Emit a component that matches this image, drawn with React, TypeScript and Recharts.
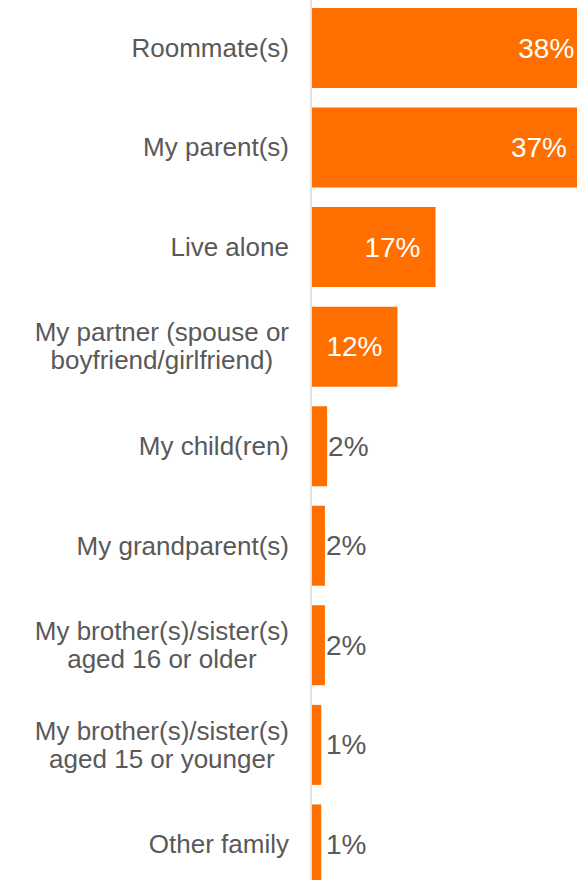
import { BarChart, Bar, XAxis, YAxis, LabelList } from 'recharts';

const categories = [
  'Roommate(s)',
  'My parent(s)',
  'Live alone',
  'My partner (spouse or\nboyfriend/girlfriend)',
  'My child(ren)',
  'My grandparent(s)',
  'My brother(s)/sister(s)\naged 16 or older',
  'My brother(s)/sister(s)\naged 15 or younger',
  'Other family',
];

const shares = [38, 37, 17, 11.8, 2.2, 1.9, 1.9, 1.4, 1.4];

const data = categories.map((name, i) => ({ name, value: shares[i] }));

const ORANGE = '#FF6F00';
const GREY = '#595959';
const FONT = '"Liberation Sans", Arial, sans-serif';
const LABEL_RIGHT = 289;

let ctx: CanvasRenderingContext2D | null = null;
const measure = (text: string, size: number) => {
  if (!ctx) ctx = document.createElement('canvas').getContext('2d');
  if (!ctx) return text.length * size * 0.5;
  ctx.font = `${size}px ${FONT}`;
  return ctx.measureText(text).width;
};

// multi-line labels: lines centred on each other, block right-aligned
const CategoryTick = (props: any) => {
  const { y, payload } = props;
  const lines = String(payload.value).split('\n');
  const size = 26;
  const lineHeight = 28;
  const maxW = Math.max(...lines.map((l) => measure(l, size)));
  const cx = LABEL_RIGHT - maxW / 2;
  const start = -((lines.length - 1) / 2) * lineHeight;
  return (
    <g>
      {lines.map((line, i) => (
        <text
          key={i}
          x={cx}
          y={y + start + i * lineHeight}
          textAnchor="middle"
          dominantBaseline="central"
          fill={GREY}
          fontSize={size}
          fontFamily={FONT}
        >
          {line}
        </text>
      ))}
    </g>
  );
};

const ValueLabel = (props: any) => {
  const { x, y, width, height, value } = props;
  const text = `${Math.round(value)}%`;
  const inside = value >= 5;
  const end = x + width;
  return (
    <text
      x={inside ? end - 15 : Math.max(end + 1, 326)}
      y={y + height / 2}
      textAnchor={inside ? 'end' : 'start'}
      dominantBaseline="central"
      fill={inside ? '#ffffff' : GREY}
      fontSize={28}
      fontFamily={FONT}
    >
      {text}
    </text>
  );
};

const App = () => {
  return (
    <div
      style={{
        position: 'fixed',
        top: 0,
        left: 0,
        width: 577,
        height: 880,
        overflow: 'hidden',
        background: '#fff',
      }}
    >
      <div style={{ position: 'absolute', top: -2, left: 0 }}>
        <BarChart
          layout="vertical"
          width={604}
          height={896}
          data={data}
          margin={{ top: 0, right: 0, bottom: 0, left: 0 }}
        >
          <XAxis type="number" domain={[0, 40]} hide />
          <YAxis
            type="category"
            dataKey="name"
            width={311}
            interval={0}
            tickLine={false}
            axisLine={{ stroke: '#E3E3E3', strokeWidth: 2 }}
            tick={<CategoryTick />}
          />
          <Bar dataKey="value" fill={ORANGE} barSize={80} isAnimationActive={false}>
            <LabelList dataKey="value" content={<ValueLabel />} />
          </Bar>
        </BarChart>
      </div>
    </div>
  );
};

export default App;
